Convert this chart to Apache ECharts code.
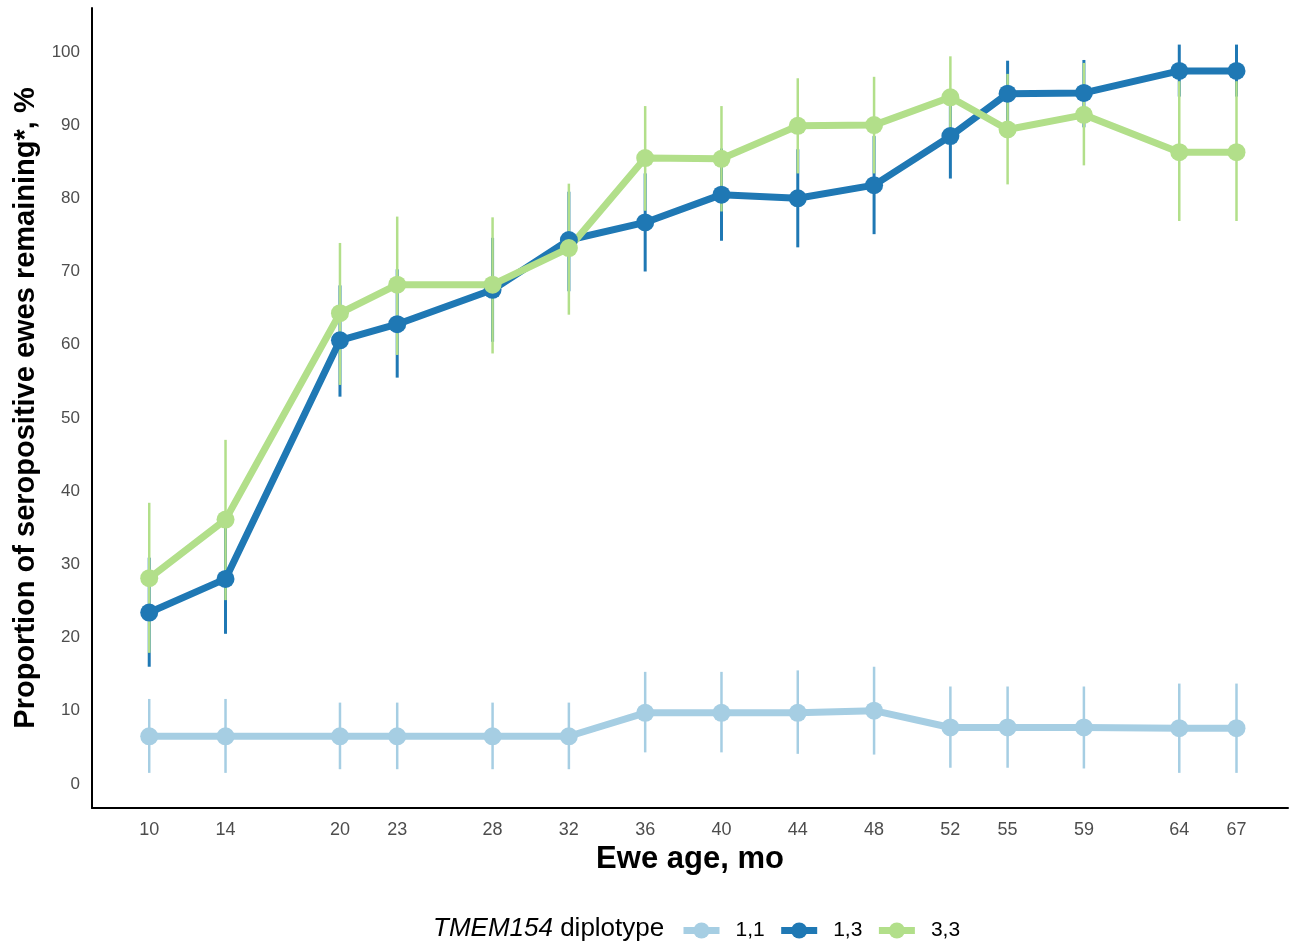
<!DOCTYPE html>
<html>
<head>
<meta charset="utf-8">
<script src="https://cdn.jsdelivr.net/npm/echarts@6/dist/echarts.min.js"></script>
<style>
  html, body { margin: 0; padding: 0; background: #fff; }
  #chart { width: 1290px; height: 943px; }
</style>
</head>
<body>
<div id="chart"></div>
<script>
// ===== data =====
const ages = [10, 14, 20, 23, 28, 32, 36, 40, 44, 48, 52, 55, 59, 64, 67];

// TMEM154 1,1
const mean11 = [6.5, 6.5, 6.5, 6.5, 6.5, 6.5, 9.7, 9.7, 9.7, 10.0, 7.7, 7.7, 7.7, 7.6, 7.6];
const low11  = [1.5, 1.5, 2.0, 2.0, 2.0, 2.0, 4.3, 4.3, 4.1, 4.0, 2.2, 2.2, 2.1, 1.5, 1.5];
const high11 = [11.6, 11.6, 11.1, 11.1, 11.1, 11.1, 15.3, 15.3, 15.5, 16.0, 13.3, 13.3, 13.3, 13.7, 13.7];

// TMEM154 1,3
const mean13 = [23.4, 28.0, 60.6, 62.8, 67.5, 74.3, 76.7, 80.5, 80.0, 81.8, 88.5, 94.3, 94.4, 97.4, 97.4];
const low13  = [16.0, 20.5, 52.9, 55.5, 60.4, 67.3, 70.0, 74.2, 73.3, 75.1, 82.7, 89.8, 89.7, 93.9, 93.9];
const high13 = [30.9, 35.5, 68.1, 70.3, 74.6, 80.9, 83.4, 86.8, 86.7, 88.5, 94.5, 98.8, 98.9, 101.0, 101.0];

// TMEM154 3,3
const mean33 = [28.1, 36.1, 64.3, 68.2, 68.2, 73.2, 85.5, 85.4, 89.9, 90.0, 93.8, 89.4, 91.4, 86.3, 86.3];
const low33  = [17.9, 25.1, 54.5, 58.6, 58.8, 64.1, 78.3, 78.2, 83.4, 83.4, 88.0, 81.9, 84.5, 76.9, 76.9];
const high33 = [38.4, 47.0, 73.9, 77.5, 77.4, 82.0, 92.6, 92.6, 96.4, 96.6, 99.4, 97.0, 98.5, 96.0, 96.0];

const yTicks = [0, 10, 20, 30, 40, 50, 60, 70, 80, 90, 100];

// ===== helpers =====
const FONT = 'Liberation Sans, Arial, sans-serif';

const groups = [
  { name: '1,1', color: '#a6cee3', mean: mean11, low: low11, high: high11, barWidth: 2.5 },
  { name: '1,3', color: '#1f78b4', mean: mean13, low: low13, high: high13, barWidth: 3 },
  { name: '3,3', color: '#b2df8a', mean: mean33, low: low33, high: high33, barWidth: 2.5 }
];

// 误差线 (custom series)
function errorSeries(g) {
  return {
    name: 'err ' + g.name,
    type: 'custom',
    z: 1,
    silent: true,
    data: ages.map((a, i) => [a, g.low[i], g.high[i]]),
    renderItem(params, api) {
      const p1 = api.coord([api.value(0), api.value(1)]);
      const p2 = api.coord([api.value(0), api.value(2)]);
      return {
        type: 'line',
        shape: { x1: p1[0], y1: p1[1], x2: p2[0], y2: p2[1] },
        style: { stroke: g.color, lineWidth: g.barWidth }
      };
    }
  };
}

function lineSeries(g) {
  return {
    name: g.name,
    type: 'line',
    z: 3,
    data: ages.map((a, i) => [a, g.mean[i]]),
    symbol: 'circle',
    symbolSize: 18,
    showAllSymbol: true,
    lineStyle: { color: g.color, width: 7 },
    itemStyle: { color: g.color },
    emphasis: { disabled: true }
  };
}

const chart = echarts.init(document.getElementById('chart'));

chart.setOption({
  animation: false,
  grid: { left: 92, right: 2, top: 8, bottom: 135 },
  xAxis: {
    type: 'value',
    min: 7.0,
    max: 69.7,
    name: 'Ewe age, mo',
    nameLocation: 'middle',
    nameGap: 33,
    nameTextStyle: { fontFamily: FONT, fontSize: 31, fontWeight: 'bold', color: '#000' },
    axisLine: { onZero: false, lineStyle: { color: '#000', width: 2 } },
    axisTick: { show: false },
    splitLine: { show: false },
    axisLabel: {
      customValues: ages,
      margin: 13,
      fontFamily: FONT,
      fontSize: 18,
      color: '#4d4d4d'
    }
  },
  yAxis: {
    type: 'value',
    min: -3.3,
    max: 106,
    name: 'Proportion of seropositive ewes remaining*, %',
    nameLocation: 'middle',
    nameGap: 48,
    nameTextStyle: { fontFamily: FONT, fontSize: 29, fontWeight: 'bold', color: '#000' },
    axisLine: { show: true, onZero: false, lineStyle: { color: '#000', width: 2 } },
    axisTick: { show: false },
    splitLine: { show: false },
    axisLabel: {
      customValues: yTicks,
      margin: 12,
      fontFamily: FONT,
      fontSize: 17,
      color: '#4d4d4d'
    }
  },
  legend: {
    data: ['1,1', '1,3', '3,3'],
    left: 675,
    top: 915,
    itemWidth: 36,
    itemHeight: 20,
    itemGap: 13,
    selectedMode: false,
    lineStyle: { width: 7 },
    textStyle: { fontFamily: FONT, fontSize: 21, color: '#000', padding: [0, 0, 0, 11] }
  },
  graphic: [
    {
      type: 'text',
      left: 433,
      top: 916,
      style: {
        text: '{i|TMEM154} diplotype',
        rich: { i: { fontStyle: 'italic', fontFamily: FONT, fontSize: 26, fill: '#000' } },
        font: '26px Liberation Sans, Arial, sans-serif',
        fill: '#000'
      }
    }
  ],
  series: [
    ...groups.map(errorSeries),
    ...groups.map(lineSeries)
  ]
});
</script>
</body>
</html>
